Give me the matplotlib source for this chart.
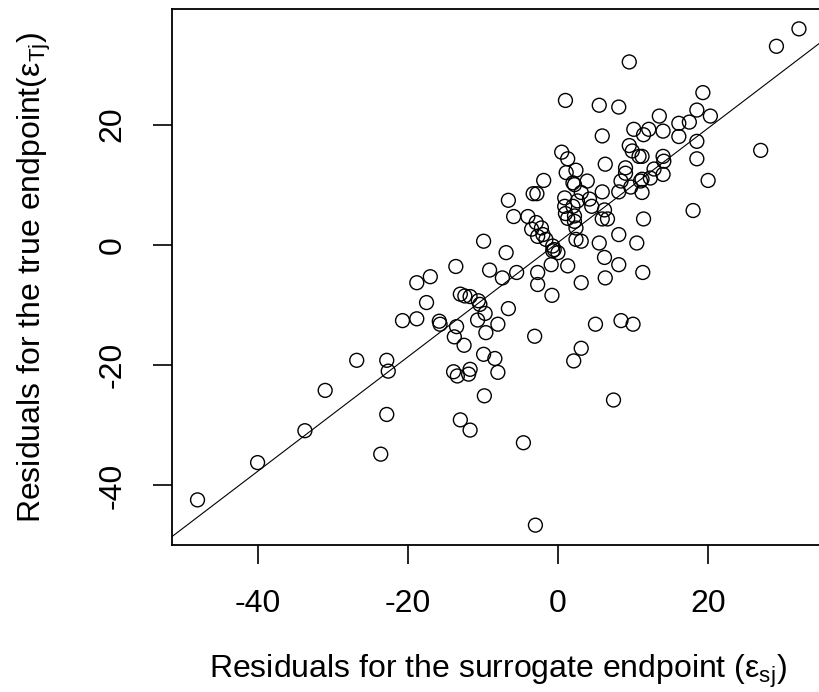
import numpy as np
import matplotlib
matplotlib.use("Agg")
import matplotlib.pyplot as plt

plt.rcParams['font.family'] = ['Liberation Sans', 'DejaVu Sans']
plt.rcParams['mathtext.fontset'] = 'custom'
plt.rcParams['mathtext.rm'] = 'Liberation Sans'
plt.rcParams['mathtext.it'] = 'Liberation Sans:italic'
plt.rcParams['axes.unicode_minus'] = False

# residuals for the surrogate endpoint (x) and the true endpoint (y)
eps_s = [-48.0, -40.0, -33.7, -31.0, -26.8, -22.8, -22.6, -22.8, -23.6, -20.7,
         -18.8, -18.8, -17.0, -17.5, -15.8, -15.7, -13.5, -13.8, -12.5, -13.0,
         -12.4, -11.7, -10.6, -9.7, -10.7, -8.0, -9.6, -6.6, -3.1, -9.9,
         -8.4, -8.0, -13.9, -13.4, -11.7, -11.9, -9.8, -13.0, -11.7, -4.6,
         -3.0, -13.6, -9.1, -7.4, -5.5, -2.7, -2.7, -9.9, -6.9, -0.8,
         3.1, 2.1, 7.4, 5.0, 8.4, 10.0, 3.1, 6.3, 6.2, 8.1,
         11.3, -0.9, 1.3, 10.5, 8.1, 5.5, 2.4, 3.1, -0.7, 0.0,
         -0.7, -2.7, -2.0, -1.6, -2.9, -2.2, -3.5, -4.0, -5.9, -6.6,
         -3.3, -2.8, -1.9, 0.5, 1.3, 1.0, 1.1, 2.4, 2.0, 3.9,
         2.2, 3.1, 4.2, 2.6, 0.9, 0.9, 1.0, 1.3, 2.2, 2.0,
         2.2, 4.5, 6.2, 5.9, 6.6, 2.4, 5.9, 8.1, 9.7, 11.2,
         8.4, 11.0, 9.0, 9.0, 6.3, 5.9, 9.5, 9.9, 10.8, 10.1,
         11.4, 12.1, 14.0, 13.5, 16.1, 17.5, 16.1, 18.5, 20.3, 19.3,
         18.5, 18.5, 14.0, 14.1, 11.2, 12.8, 14.0, 12.3, 11.2, 20.0,
         18.0, 11.4, 27.0, 32.1, 29.1, 9.5, 5.5, 8.1, -10.4, -0.5]
eps_t = [-42.4, -36.2, -30.9, -24.2, -19.2, -19.2, -21.0, -28.2, -34.8, -12.6,
         -12.3, -6.3, -5.3, -9.6, -12.7, -13.2, -13.6, -15.3, -16.7, -8.2,
         -8.5, -8.6, -9.3, -11.4, -12.5, -13.2, -14.6, -10.6, -15.2, -18.2,
         -18.9, -21.2, -21.1, -21.8, -20.7, -21.5, -25.1, -29.1, -30.8, -32.9,
         -46.6, -3.6, -4.2, -5.5, -4.6, -4.6, -6.6, 0.6, -1.3, -8.4,
         -17.2, -19.3, -25.8, -13.2, -12.6, -13.2, -6.3, -5.5, -2.1, -3.3,
         -4.6, -3.3, -3.5, 0.3, 1.7, 0.3, 0.9, 0.6, -0.2, -1.3,
         -1.0, 1.4, 1.7, 0.9, 3.7, 2.8, 2.6, 4.7, 4.7, 7.4,
         8.5, 8.5, 10.7, 15.4, 14.3, 24.0, 12.0, 12.4, 10.3, 10.6,
         10.0, 8.7, 7.6, 7.3, 7.8, 6.4, 5.2, 4.4, 3.9, 6.4,
         4.8, 6.4, 5.8, 4.3, 4.3, 2.8, 8.8, 8.8, 9.6, 8.7,
         10.6, 10.6, 11.9, 12.8, 13.4, 18.1, 16.5, 15.6, 14.7, 19.2,
         18.3, 19.2, 18.9, 21.4, 20.2, 20.4, 18.0, 22.4, 21.4, 25.3,
         17.2, 14.3, 14.7, 13.9, 14.7, 12.6, 11.7, 11.1, 10.9, 10.7,
         5.7, 4.3, 15.7, 35.9, 33.0, 30.4, 23.2, 22.9, -9.9, -0.8]

# fitted regression line
intercept = 0.38
slope = 0.951

xticks = [-40, -20, 0, 20]
yticks = [-40, -20, 0, 20]

fig = plt.figure(figsize=(8.19, 6.92), dpi=100)
# right edge of the box falls just outside the picture, as in the original
ax = fig.add_axes([172 / 819, 1 - 545 / 692, (823 - 172) / 819, (545 - 9) / 692])

ax.scatter(eps_s, eps_t, s=100, facecolors='none', edgecolors='black', linewidths=1.0)

xl = (-51.4, 35.3)
ax.plot(xl, [intercept + slope * v for v in xl], color='black', linewidth=0.8)

ax.set_xlim(xl)
ax.set_ylim(-49.9, 39.2)
ax.set_xticks(xticks)
ax.set_yticks(yticks)
ax.tick_params(labelsize=23, length=14, width=1.2, pad=18)
ax.tick_params(axis='y', labelrotation=90)
for lab in ax.get_yticklabels():
    lab.set_va('center')
for sp in ax.spines.values():
    sp.set_linewidth(1.3)

ax.set_xlabel(r'Residuals for the surrogate endpoint (ε$_{\rm sj}$)', fontsize=23, labelpad=24)
ax.set_ylabel(r'Residuals for the true endpoint(ε$_{\rm Tj}$)', fontsize=23, labelpad=32)

fig.savefig('out.png', dpi=100)
